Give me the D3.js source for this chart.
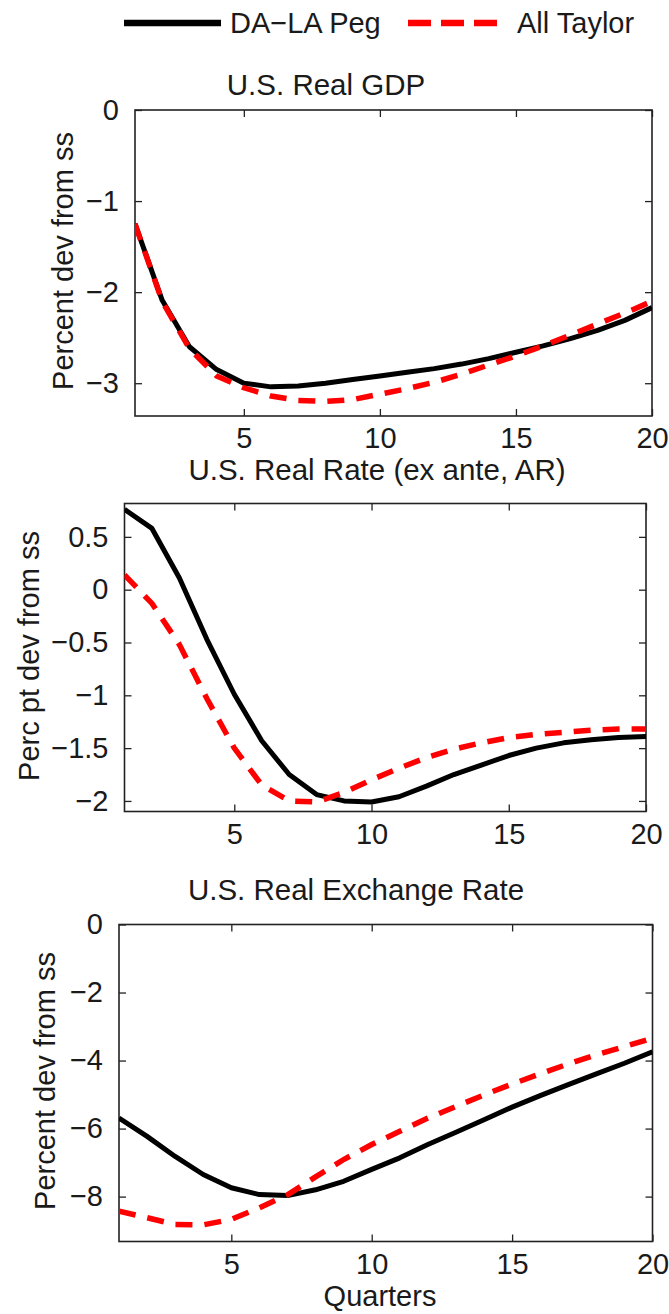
<!DOCTYPE html>
<html>
<head>
<meta charset="utf-8">
<script src="https://cdn.jsdelivr.net/npm/d3@7"></script>
<style>
  html, body { margin: 0; padding: 0; background: #fff; }
  svg { display: block; }
  text { font-family: "Liberation Sans", Arial, Helvetica, sans-serif; fill: #1a1a1a; }
</style>
</head>
<body>
<svg id="chart" width="669" height="1314"></svg>
<script>
// Impulse responses over 20 quarters under two policy regimes
const quarters = d3.range(1, 21);
const xTicks = [5, 10, 15, 20];
const seriesNames = ["DA\u2212LA Peg", "All Taylor"];

// U.S. Real GDP, percent deviation from steady state
const gdpPeg = [-1.25, -2.09, -2.60, -2.85, -3.00, -3.04, -3.03, -3.00, -2.96, -2.92,
                -2.88, -2.84, -2.79, -2.73, -2.66, -2.59, -2.51, -2.42, -2.31, -2.17];
const gdpTaylor = [-1.25, -2.10, -2.62, -2.92, -3.05, -3.14, -3.19, -3.20, -3.18, -3.12,
                   -3.06, -2.99, -2.90, -2.80, -2.70, -2.59, -2.47, -2.35, -2.23, -2.10];
const gdpTicks = [0, -1, -2, -3];

// U.S. real rate (ex ante, annualised), percentage-point deviation
const ratePeg = [0.76, 0.58, 0.11, -0.47, -0.99, -1.43, -1.75, -1.94, -2.00, -2.01,
                 -1.96, -1.86, -1.75, -1.66, -1.57, -1.50, -1.45, -1.42, -1.40, -1.39];
const rateTaylor = [0.14, -0.13, -0.52, -1.03, -1.50, -1.85, -2.00, -2.01, -1.92, -1.80,
                    -1.69, -1.59, -1.51, -1.45, -1.40, -1.37, -1.35, -1.33, -1.32, -1.32];
const rateTicks = [0.5, 0, -0.5, -1, -1.5, -2];

// U.S. real exchange rate, percent deviation
const rerPeg = [-5.69, -6.23, -6.82, -7.35, -7.74, -7.94, -7.97, -7.80, -7.55, -7.20,
                -6.86, -6.47, -6.11, -5.74, -5.37, -5.03, -4.71, -4.39, -4.08, -3.74];
const rerTaylor = [-8.43, -8.62, -8.82, -8.83, -8.67, -8.33, -7.95, -7.42, -6.91, -6.47,
                   -6.08, -5.69, -5.35, -5.01, -4.69, -4.39, -4.10, -3.83, -3.59, -3.34];
const rerTicks = [0, -2, -4, -6, -8];

const panels = [
  { title: "U.S. Real GDP", ylabel: "Percent dev from ss", peg: gdpPeg, taylor: gdpTaylor,
    yTicks: gdpTicks, yDomain: [-3.36, 0],
    box: { l: 135, r: 652, t: 110, b: 416 }, titleX: 326, titleY: 95, ylabX: 63, ylabY: 261 },
  { title: "U.S. Real Rate (ex ante, AR)", ylabel: "Perc pt dev from ss", peg: ratePeg, taylor: rateTaylor,
    yTicks: rateTicks, yDomain: [-2.10, 0.816],
    box: { l: 124.5, r: 646, t: 503.5, b: 811.5 }, titleX: 377, titleY: 480, ylabX: 29, ylabY: 656 },
  { title: "U.S. Real Exchange Rate", ylabel: "Percent dev from ss", peg: rerPeg, taylor: rerTaylor,
    yTicks: rerTicks, yDomain: [-9.32, 0],
    box: { l: 119, r: 652.5, t: 924.5, b: 1241.5 }, titleX: 356, titleY: 900, ylabX: 45, ylabY: 1081,
    xlabel: "Quarters", xlabX: 380, xlabY: 1306 }
];

const svg = d3.select("#chart");
const fmt = v => (v < 0 ? "\u2212" : "") + Math.abs(v);
const FONT = 29;
const TITLE_FONT = 29.5;
const TICK = 7;

panels.forEach((p, i) => {
  const { l, r, t, b } = p.box;
  const x = d3.scaleLinear().domain([1, 20]).range([l, r]);
  const y = d3.scaleLinear().domain(p.yDomain).range([b, t]);

  const g = svg.append("g");

  // clip the curves to the axes area
  const clipId = "clip" + i;
  svg.append("defs").append("clipPath").attr("id", clipId)
    .append("rect").attr("x", l).attr("y", t).attr("width", r - l).attr("height", b - t);

  // inward ticks on all four sides, MATLAB style
  const axisStyle = sel => {
    sel.select(".domain").remove();
    sel.selectAll(".tick line").attr("stroke", "#222").attr("stroke-width", 1.3);
    sel.selectAll(".tick text").attr("font-size", FONT).attr("fill", "#1a1a1a")
      .style("font-family", '"Liberation Sans", Arial, sans-serif');
  };

  g.append("g").attr("transform", `translate(0,${b})`)
    .call(d3.axisBottom(x).tickValues(xTicks).tickSizeInner(-TICK).tickSizeOuter(0).tickFormat(fmt))
    .call(axisStyle)
    .call(s => s.selectAll(".tick text").attr("dy", null).attr("y", 32).attr("dominant-baseline", "auto"));
  g.append("g").attr("transform", `translate(0,${t})`)
    .call(d3.axisTop(x).tickValues(xTicks).tickSizeInner(-TICK).tickSizeOuter(0).tickFormat(""))
    .call(axisStyle);
  g.append("g").attr("transform", `translate(${l},0)`)
    .call(d3.axisLeft(y).tickValues(p.yTicks).tickSizeInner(-TICK).tickSizeOuter(0).tickPadding(16).tickFormat(fmt))
    .call(axisStyle);
  g.append("g").attr("transform", `translate(${r},0)`)
    .call(d3.axisRight(y).tickValues(p.yTicks).tickSizeInner(-TICK).tickSizeOuter(0).tickFormat(""))
    .call(axisStyle);

  // axes frame
  g.append("rect").attr("x", l).attr("y", t).attr("width", r - l).attr("height", b - t)
    .attr("fill", "none").attr("stroke", "#222").attr("stroke-width", 1.6);

  const line = d3.line().x((d, k) => x(quarters[k])).y(d => y(d)).curve(d3.curveLinear);

  const curves = g.append("g").attr("clip-path", `url(#${clipId})`);
  curves.append("path").datum(p.peg).attr("d", line)
    .attr("fill", "none").attr("stroke", "#000").attr("stroke-width", 5)
    .attr("stroke-linejoin", "round");
  curves.append("path").datum(p.taylor).attr("d", line)
    .attr("fill", "none").attr("stroke", "#ff0000").attr("stroke-width", 5.5)
    .attr("stroke-dasharray", "17,12");

  // title and axis labels
  g.append("text").attr("x", p.titleX).attr("y", p.titleY).attr("text-anchor", "middle")
    .attr("font-size", TITLE_FONT).text(p.title);
  g.append("text").attr("transform", `translate(${p.ylabX},${p.ylabY}) rotate(-90)`)
    .attr("text-anchor", "middle").attr("dominant-baseline", "central")
    .attr("font-size", FONT).text(p.ylabel);
  if (p.xlabel) {
    g.append("text").attr("x", p.xlabX).attr("y", p.xlabY).attr("text-anchor", "middle")
      .attr("font-size", FONT).text(p.xlabel);
  }
});

// legend across the top
const legend = svg.append("g");
const legendItems = [
  { name: seriesNames[0], color: "#000", dash: null, x0: 124, x1: 221, tx: 230 },
  { name: seriesNames[1], color: "#ff0000", dash: "23,10", x0: 408, x1: 498, tx: 517 }
];
legendItems.forEach(it => {
  legend.append("line").attr("x1", it.x0).attr("x2", it.x1).attr("y1", 23).attr("y2", 23)
    .attr("stroke", it.color).attr("stroke-width", 6.5)
    .attr("stroke-dasharray", it.dash);
  legend.append("text").attr("x", it.tx).attr("y", 33).attr("font-size", FONT).text(it.name);
});
</script>
</body>
</html>
